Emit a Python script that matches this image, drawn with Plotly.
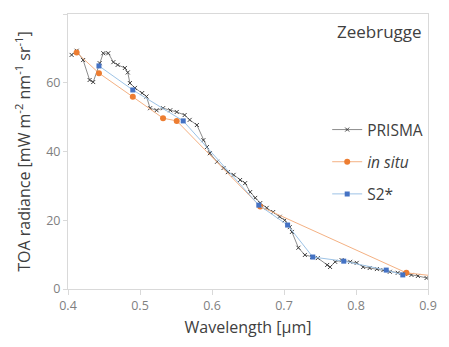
import plotly.graph_objects as go

# PRISMA spectrum
prisma_wl = [0.405, 0.412, 0.421, 0.430, 0.435, 0.444, 0.449, 0.456, 0.463, 0.469,
             0.479, 0.483, 0.486, 0.493, 0.503, 0.509, 0.514, 0.523, 0.532, 0.542,
             0.551, 0.562, 0.569, 0.579, 0.588, 0.593, 0.597, 0.607, 0.616, 0.622,
             0.630, 0.639, 0.646, 0.653, 0.660, 0.667, 0.676, 0.685, 0.694, 0.701,
             0.708, 0.711, 0.720, 0.729, 0.739, 0.747, 0.760, 0.764, 0.771, 0.780,
             0.792, 0.801, 0.810, 0.819, 0.829, 0.838, 0.847, 0.858, 0.868, 0.877,
             0.886, 0.898]
prisma_val = [68.1, 69.3, 66.6, 60.8, 60.2, 65.7, 68.6, 68.6, 66.0, 65.2,
              64.3, 63.0, 59.9, 58.5, 57.0, 56.0, 52.6, 52.0, 52.6, 52.0,
              51.5, 50.6, 49.2, 47.7, 43.3, 41.3, 39.5, 37.0, 35.2, 34.0,
              33.2, 31.7, 30.8, 28.2, 26.5, 25.0, 23.6, 22.4, 21.0, 20.0,
              18.0, 16.6, 12.0, 9.9, 9.3, 9.0, 7.0, 6.4, 7.9, 8.4,
              7.9, 7.6, 6.4, 6.1, 5.8, 5.5, 5.0, 4.7, 4.4, 4.1,
              3.8, 3.2]

# in situ
insitu_wl = [0.412, 0.443, 0.490, 0.532, 0.551, 0.667, 0.870, 1.020]
insitu_val = [68.8, 62.8, 55.9, 49.7, 48.9, 24.0, 4.7, 1.2]

# S2*
s2_wl = [0.443, 0.490, 0.560, 0.665, 0.705, 0.740, 0.783, 0.842, 0.865]
s2_val = [64.9, 57.9, 48.9, 24.4, 18.6, 9.3, 8.1, 5.5, 4.1]

x_ticks = [0.4, 0.5, 0.6, 0.7, 0.8, 0.9]
y_ticks = [0, 20, 40, 60, 80]

FONT = "Open Sans, Liberation Sans, sans-serif"

fig = go.Figure()
fig.add_trace(go.Scatter(
    x=prisma_wl, y=prisma_val, name="PRISMA", mode="lines+markers",
    line=dict(color="#8c8c8c", width=1),
    marker=dict(symbol="x-thin", size=4, line=dict(color="#404040", width=1)),
    legendgroup="a"))
fig.add_trace(go.Scatter(
    x=insitu_wl, y=insitu_val, name="<i>in situ</i>", mode="lines+markers",
    line=dict(color="#f4b183", width=1),
    marker=dict(symbol="circle", size=6, color="#ed7d31"),
    legendgroup="b"))
fig.add_trace(go.Scatter(
    x=s2_wl, y=s2_val, name="S2*", mode="lines+markers",
    line=dict(color="#9dc3e6", width=1),
    marker=dict(symbol="square", size=5, color="#4472c4"),
    legendgroup="c"))

fig.add_annotation(text="Zeebrugge", xref="paper", yref="paper",
                   x=0.99, y=0.935, xanchor="right", yanchor="middle",
                   showarrow=False, font=dict(family=FONT, size=17, color="#404040"))

# page body has an 8px margin, so the figure is sized/offset to land the
# plot area where the reference has it
fig.update_layout(
    width=441, height=339,
    margin=dict(l=60, r=21, t=6, b=58),
    paper_bgcolor="white", plot_bgcolor="white",
    font=dict(family=FONT, color="#595959", size=12),
    showlegend=True,
    legend=dict(x=0.72, y=0.64, xanchor="left", yanchor="top",
                font=dict(family=FONT, size=15.5, color="#404040"),
                itemwidth=30, tracegroupgap=9, bgcolor="rgba(0,0,0,0)"),
    xaxis=dict(range=[0.4, 0.9], tickvals=x_ticks, ticktext=[str(v) for v in x_ticks],
               showgrid=False, zeroline=False, showline=True, linecolor="#d9d9d9",
               mirror=True, ticks="outside", tickcolor="#d9d9d9", ticklen=5,
               automargin=False,
               tickfont=dict(size=12.5, color="#7f7f7f"),
               title=dict(text="Wavelength [µm]", font=dict(size=16, color="#404040"), standoff=8)),
    yaxis=dict(range=[0, 80], tickvals=y_ticks,
               showgrid=False, zeroline=False, showline=True, linecolor="#d9d9d9",
               mirror=True, ticks="outside", tickcolor="#d9d9d9", ticklen=4,
               automargin=False,
               tickfont=dict(size=12.5, color="#7f7f7f"),
               title=dict(text="TOA radiance [mW m<sup>-2</sup> nm<sup>-1</sup> sr<sup>-1</sup>]",
                          font=dict(size=16, color="#404040"), standoff=11)),
)

fig.write_html("out.html")
